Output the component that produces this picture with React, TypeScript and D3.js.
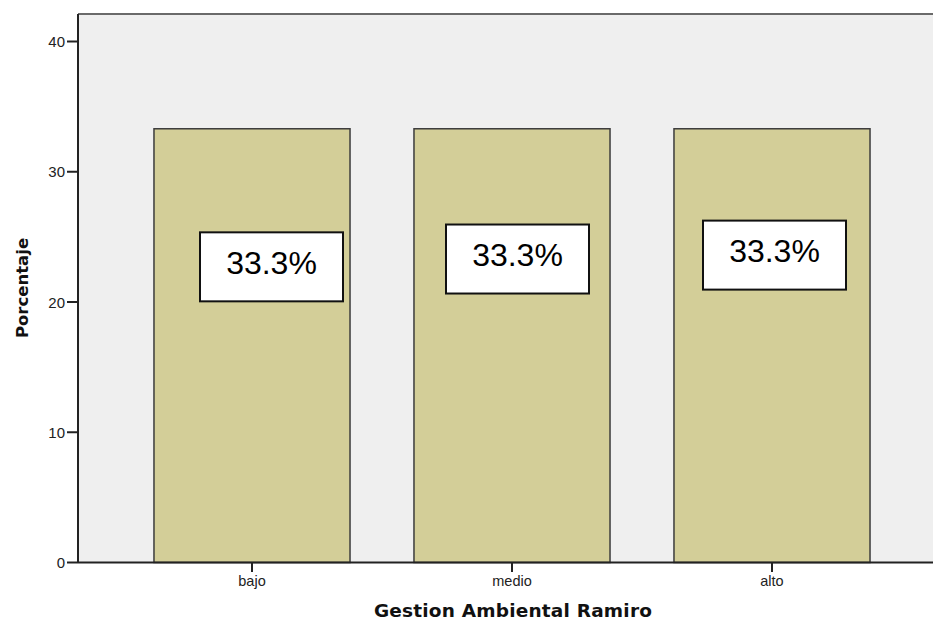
import React from "react";
import * as d3 from "d3";

// Frequency table: Gestion Ambiental Ramiro
const categories = ["bajo", "medio", "alto"];
const percentages = [33.3, 33.3, 33.3];
const valueLabels = ["33.3%", "33.3%", "33.3%"];
const yTicks = [0, 10, 20, 30, 40];

const xTitle = "Gestion Ambiental Ramiro";
const yTitle = "Porcentaje";

// Where each value-label box sits relative to its bar (px offset from the bar centre, value on the y scale)
const labelPlacement = [
  { dx: 19.5, yValue: 22.7 },
  { dx: 5.5, yValue: 23.3 },
  { dx: 2.5, yValue: 23.6 },
];

const W = 933;
const H = 621;
const plot = { left: 78, top: 14, right: 933, bottom: 562.5 };

export default function App() {
  const y = d3.scaleLinear().domain([0, 40]).range([562.5, 41.5]);
  const x = d3
    .scaleBand<string>()
    .domain(categories)
    .range([122, 902])
    .paddingInner(0.246)
    .paddingOuter(0.123);

  const boxW = 143;
  const boxH = 69;
  const sans = "'Liberation Sans', Arial, sans-serif";
  const bold = "'DejaVu Sans', Verdana, sans-serif";

  return (
    <svg
      width={W}
      height={H}
      style={{ position: "absolute", left: 0, top: 0, background: "#ffffff" }}
    >
      {/* plot background */}
      <rect
        x={plot.left}
        y={plot.top}
        width={plot.right - plot.left}
        height={plot.bottom - plot.top}
        fill="#efefef"
      />
      <line x1={plot.left} x2={plot.right} y1={plot.top} y2={plot.top} stroke="#6a6a6a" strokeWidth={2} />

      {/* bars */}
      {categories.map((c, i) => (
        <rect
          key={c}
          x={x(c)!}
          y={y(percentages[i])}
          width={x.bandwidth()}
          height={y(0) - y(percentages[i])}
          fill="#d3ce98"
          stroke="#3c3c3c"
          strokeWidth={1.5}
        />
      ))}

      {/* value labels */}
      {categories.map((c, i) => {
        const cx = x(c)! + x.bandwidth() / 2 + labelPlacement[i].dx;
        const cy = y(labelPlacement[i].yValue);
        return (
          <g key={"lab-" + c}>
            <rect
              x={cx - boxW / 2}
              y={cy - boxH / 2}
              width={boxW}
              height={boxH}
              fill="#ffffff"
              stroke="#111111"
              strokeWidth={2}
            />
            <text
              x={cx}
              y={cy + 7}
              textAnchor="middle"
              fontFamily={sans}
              fontSize={32}
              fill="#000000"
            >
              {valueLabels[i]}
            </text>
          </g>
        );
      })}

      {/* y axis */}
      <line x1={plot.left} x2={plot.left} y1={plot.top} y2={plot.bottom} stroke="#222222" strokeWidth={2} />
      {yTicks.map((t) => (
        <g key={"yt-" + t}>
          <line x1={67} x2={plot.left} y1={y(t)} y2={y(t)} stroke="#222222" strokeWidth={2} />
          <text
            x={65}
            y={y(t) + 5.5}
            textAnchor="end"
            fontFamily={sans}
            fontSize={15}
            fill="#222222"
          >
            {t}
          </text>
        </g>
      ))}

      {/* x axis */}
      <line x1={plot.left} x2={plot.right} y1={plot.bottom} y2={plot.bottom} stroke="#222222" strokeWidth={2} />
      {categories.map((c) => {
        const cx = x(c)! + x.bandwidth() / 2;
        return (
          <g key={"xt-" + c}>
            <line x1={cx} x2={cx} y1={plot.bottom} y2={572} stroke="#222222" strokeWidth={2} />
            <text x={cx} y={586} textAnchor="middle" fontFamily={sans} fontSize={14.5} fill="#222222">
              {c}
            </text>
          </g>
        );
      })}

      {/* axis titles */}
      <text
        x={513}
        y={617}
        textAnchor="middle"
        fontFamily={bold}
        fontWeight="bold"
        fontSize={18.5}
        letterSpacing={0.2}
        fill="#111111"
      >
        {xTitle}
      </text>
      <text
        transform={`translate(28, 288) rotate(-90)`}
        textAnchor="middle"
        fontFamily={bold}
        fontWeight="bold"
        fontSize={16.5}
        fill="#111111"
      >
        {yTitle}
      </text>
    </svg>
  );
}
